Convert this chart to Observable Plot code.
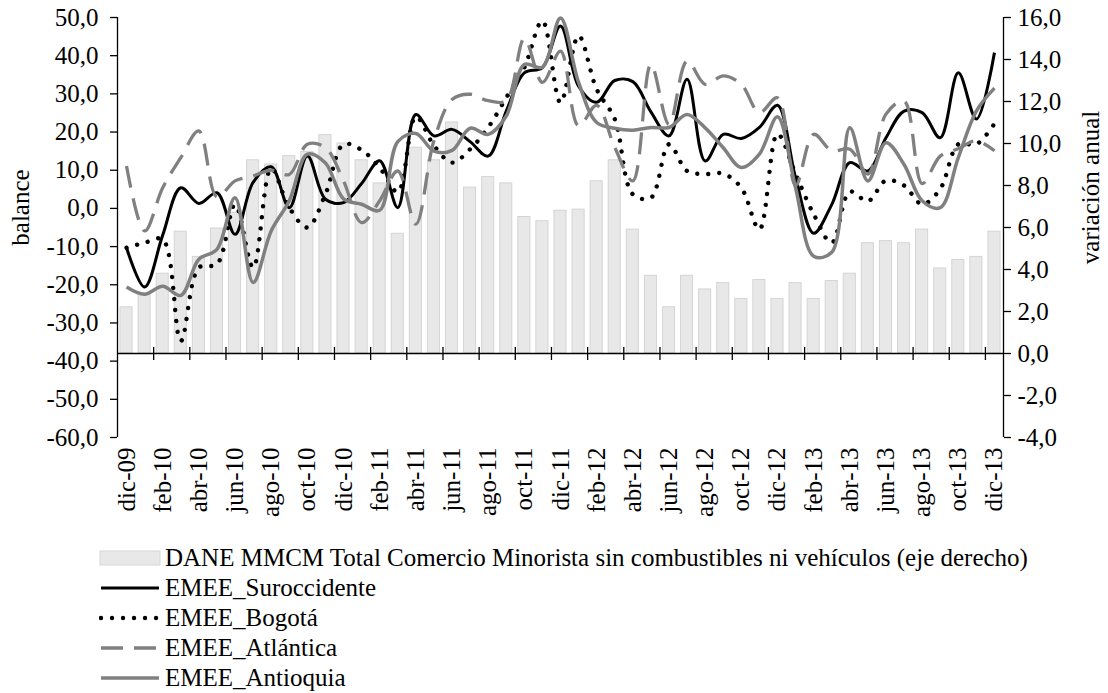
<!DOCTYPE html>
<html><head><meta charset="utf-8">
<script src="https://cdn.jsdelivr.net/npm/d3@7"></script>
<script src="https://cdn.jsdelivr.net/npm/@observablehq/plot@0.6"></script>
<style>
body{margin:0;background:#fff;font-family:"Liberation Serif",serif;color:#000;}
#wrap{position:relative;width:1108px;height:693px;overflow:hidden;}
#legend{position:absolute;left:99px;top:543px;font-size:25px;line-height:30px;}
#legend .row{display:flex;align-items:center;height:30px;white-space:nowrap;}
#legend svg{margin-right:4px;flex:none;}
</style></head><body><div id="wrap"><div id="plot"></div><div id="legend"></div></div>
<script>
const months = ["dic-09","ene-10","feb-10","mar-10","abr-10","may-10","jun-10","jul-10","ago-10","sep-10","oct-10","nov-10","dic-10","ene-11","feb-11","mar-11","abr-11","may-11","jun-11","jul-11","ago-11","sep-11","oct-11","nov-11","dic-11","ene-12","feb-12","mar-12","abr-12","may-12","jun-12","jul-12","ago-12","sep-12","oct-12","nov-12","dic-12","ene-13","feb-13","mar-13","abr-13","may-13","jun-13","jul-13","ago-13","sep-13","oct-13","nov-13","dic-13"];
// DANE MMCM (right axis, variación anual)
const comercio = [2.2,2.85,3.8,5.8,4.6,5.95,6.7,9.2,9.0,9.4,9.6,10.4,10.0,9.2,8.1,5.7,9.8,9.2,11.0,7.9,8.4,8.1,6.5,6.3,6.8,6.85,8.2,9.2,5.9,3.7,2.2,3.7,3.05,3.35,2.6,3.5,2.6,3.35,2.6,3.45,3.8,5.25,5.35,5.25,5.9,4.05,4.45,4.6,5.8];
// EMEE balances (left axis)
const suroccidente = [-10.3,-20.6,-7,5.4,1.3,4.1,-6.8,6.8,10.9,0.2,13.7,2.4,1.5,6.5,12.5,0.2,24.6,19.0,20.7,17.5,13.7,25.5,35.5,36.9,47.8,32,27.8,33.5,33.2,25.3,19.0,33.8,12.4,19.4,18.3,21.2,27,8.1,-6.5,1,12.0,9.8,18.5,25.5,25.1,18.5,35.5,23.4,40.8];
const bogota = [-10.3,-9,-8.1,-34.7,-15.5,-14.6,1,-15.5,10.5,0.2,-5.0,3.7,16.8,15.3,10.7,4.3,24,16.5,12,15.5,21.2,29.0,36.9,49.1,27.7,45.2,31.2,23.4,3.7,2.8,16.8,9.8,9.0,9.1,5.4,-5.5,19.5,9.0,-1.5,-9.0,4.4,1.9,7.3,6,1.1,5.1,16.8,16.8,22.2];
const atlantica = [11.1,-5.9,5.4,13.3,20.3,3.0,7.2,8.5,10.0,8.9,16.8,15.9,7.2,-3.7,2.0,9.8,-4.1,17.7,28.5,29.9,28.2,28.2,44.5,33,41.2,21.6,27,16,7.2,37.7,22,38.6,32.5,34.7,32.5,25.1,29.0,6,19.4,15.1,15.5,9.0,24.7,28.1,6.5,13.7,15.6,17.7,15.1];
const antioquia = [-20.6,-22.5,-20.4,-22.8,-13.3,-10.7,2.8,-19.4,-5.9,2.0,14.2,11.9,2.5,1.1,-0.5,17.5,19.6,15.0,15.2,21.0,19.4,24.2,37.7,37,49.9,33,22.5,21,20.5,21.2,21.2,24.6,21.1,15.9,10.7,14.2,24,5.4,-12.5,-11.5,21.1,7.2,17.2,11.5,2.0,0.2,13.3,25.5,31.5];
const leftTicks = [-60,-50,-40,-30,-20,-10,0,10,20,30,40,50];
const rightTicks = [-4,-2,0,2,4,6,8,10,12,14,16];
const barLabel = "DANE MMCM Total Comercio Minorista sin combustibles ni vehículos (eje derecho)";

const L = [-60, 50], R = [-4, 16];
const toLeft = v => L[0] + (v - R[0]) * (L[1] - L[0]) / (R[1] - R[0]);
const toRight = v => R[0] + (v - L[0]) * (R[1] - R[0]) / (L[1] - L[0]);
const fmt = v => (Math.round(v * 10) / 10 || 0).toFixed(1).replace(".", ",");

const series = [
  {name: "EMEE_Suroccidente", values: suroccidente, stroke: "#000", width: 3, dash: null, cap: "butt"},
  {name: "EMEE_Bogotá", values: bogota, stroke: "#000", width: 4.4, dash: "0.01 11", cap: "round"},
  {name: "EMEE_Atlántica", values: atlantica, stroke: "#808080", width: 3.3, dash: "22 11", cap: "butt"},
  {name: "EMEE_Antioquia", values: antioquia, stroke: "#808080", width: 3.5, dash: null, cap: "butt"}
];

const idx = months.map((m, i) => i);
const bars = months.map((m, i) => ({i, v: comercio[i]}));
const labelIdx = idx.filter(i => i % 2 === 0);
const base = toLeft(0);

const W = 1108, H = 543, FS = 25;
const plot = Plot.plot({
  width: W, height: H,
  marginLeft: 117, marginRight: 105, marginTop: 17, marginBottom: H - 437,
  style: {fontFamily: "Liberation Serif, serif", fontSize: FS + "px", color: "#000", background: "#fff"},
  x: {domain: [-0.5, months.length - 0.5], axis: null},
  y: {domain: L, axis: null},
  marks: [
    Plot.rectY(bars, {x1: d => d.i - 0.5, x2: d => d.i + 0.5, y1: base, y2: d => toLeft(d.v), insetLeft: 3, insetRight: 3, fill: "#e8e8e8", stroke: "#d4d4d4", strokeWidth: 1}),
    Plot.ruleY([base], {stroke: "#000", strokeWidth: 1.3}),
    Plot.ruleX(labelIdx.slice(1), {x: i => i - 0.5, y1: base, y2: base, insetTop: -6, insetBottom: -7, stroke: "#000", strokeWidth: 1.3}),
    ...series.map(s => Plot.line(s.values, {x: (d, i) => i, y: d => d, curve: "catmull-rom", stroke: s.stroke, strokeWidth: s.width, strokeDasharray: s.dash, strokeLinecap: s.cap, strokeLinejoin: "round"})),
    Plot.ruleX([-0.5, months.length - 0.5], {stroke: "#000", strokeWidth: 1.3}),
    Plot.axisY({ticks: leftTicks, anchor: "left", tickSize: 7, tickPadding: 12, tickFormat: fmt, label: null, strokeWidth: 1.3, fontSize: FS}),
    Plot.axisY({ticks: rightTicks.map(toLeft), anchor: "right", tickSize: 7, tickPadding: 7, tickFormat: v => fmt(toRight(v)), label: null, strokeWidth: 1.3, fontSize: FS}),
    Plot.axisX({ticks: labelIdx, anchor: "bottom", tickSize: 0, tickPadding: 10, tickRotate: -90, tickFormat: i => months[i], label: null, fontSize: FS}),
    Plot.text(["balance"], {frameAnchor: "left", textAnchor: "middle", rotate: -90, dx: -97, dy: -20, fontSize: FS}),
    Plot.text(["variación anual"], {frameAnchor: "right", textAnchor: "middle", rotate: -90, dx: 87, dy: -40, fontSize: FS})
  ]
});
document.getElementById("plot").appendChild(plot);

// legend
const legend = document.getElementById("legend");
function row(svgInner, text) {
  const r = document.createElement("div");
  r.className = "row";
  r.innerHTML = `<svg width="62" height="20" viewBox="0 0 62 20">${svgInner}</svg><span>${text}</span>`;
  legend.appendChild(r);
}
row(`<rect x="1" y="3" width="60" height="14" fill="#e8e8e8" stroke="#d6d6d6"/>`, barLabel);
for (const s of series) {
  row(`<line x1="2" x2="60" y1="10" y2="10" stroke="${s.stroke}" stroke-width="${s.width}" ${s.dash ? `stroke-dasharray="${s.dash}"` : ""} stroke-linecap="${s.cap}"/>`, s.name);
}
</script></body></html>
